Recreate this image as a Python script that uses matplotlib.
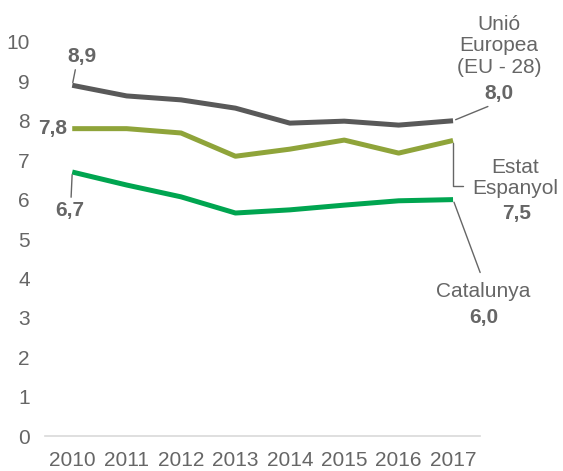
import matplotlib.pyplot as plt

plt.rcParams["font.family"] = ["Liberation Sans", "DejaVu Sans"]

years = ["2010", "2011", "2012", "2013", "2014", "2015", "2016", "2017"]
eu = [8.9, 8.63, 8.53, 8.32, 7.94, 7.99, 7.89, 8.0]
spain = [7.8, 7.8, 7.69, 7.1, 7.28, 7.51, 7.18, 7.5]
catalunya = [6.7, 6.37, 6.07, 5.66, 5.74, 5.86, 5.97, 6.0]

c_eu = "#595959"
c_es = "#8FA43A"
c_cat = "#00A550"
txt = "#666666"

fig = plt.figure(figsize=(5.63, 4.71), dpi=100)
ax = fig.add_axes([0.080, 0.074, 0.773, 0.837])

x = list(range(len(years)))
ax.plot(x, eu, color=c_eu, lw=3.6, solid_capstyle="butt")
ax.plot(x, spain, color=c_es, lw=3.6, solid_capstyle="butt")
ax.plot(x, catalunya, color=c_cat, lw=3.6, solid_capstyle="butt")

ax.set_xlim(-0.5, 7.5)
ax.set_ylim(0, 10)
ax.set_xticks(x)
ax.set_xticklabels(years)
ax.set_yticks(range(0, 11))
ax.tick_params(length=0, labelsize=15, labelcolor=txt)
ax.tick_params(axis="y", pad=11)
ax.tick_params(axis="x", pad=11)
for s in ax.spines.values():
    s.set_visible(False)
ax.axhline(0, color="#d9d9d9", lw=1.2, clip_on=False)

fs = 15
lead = dict(arrowstyle="-", color=txt, lw=1, shrinkA=1, shrinkB=2)
name = dict(textcoords="offset points", ha="center", va="center", fontsize=fs,
            color=txt, linespacing=1.15, annotation_clip=False)
val = dict(name, fontweight="bold")

# first-year labels
ax.annotate("8,9", xy=(0, eu[0]), xytext=(7, 21), arrowprops=dict(lead, relpos=(0.3, 0)), **val)
ax.annotate("7,8", xy=(0, spain[0]), xytext=(-14, 0), **val)
ax.annotate("6,7", xy=(0, catalunya[0]), xytext=(-2, -28),
            arrowprops=dict(lead, relpos=(0.55, 1)), **val)

# last-year labels
ax.annotate("Unió\nEuropea\n(EU - 28)", xy=(7, eu[-1]), xytext=(33, 54), **name)
ax.annotate("8,0", xy=(7, eu[-1]), xytext=(33, 19.5),
            arrowprops=dict(lead, relpos=(0.4, 0)), **val)

ax.annotate("Estat\nEspanyol", xy=(7, spain[-1]), xytext=(45, -27),
            arrowprops=dict(lead, relpos=(0, 0.3), shrinkA=5,
                            connectionstyle="angle,angleA=180,angleB=90,rad=0"), **name)
ax.annotate("7,5", xy=(7, spain[-1]), xytext=(46, -52.5), **val)

ax.annotate("Catalunya", xy=(7, catalunya[-1]), xytext=(22, -66),
            arrowprops=dict(lead, relpos=(0.5, 1), shrinkA=5), **name)
ax.annotate("6,0", xy=(7, catalunya[-1]), xytext=(22, -85), **val)

fig.savefig("out.png", dpi=100)
